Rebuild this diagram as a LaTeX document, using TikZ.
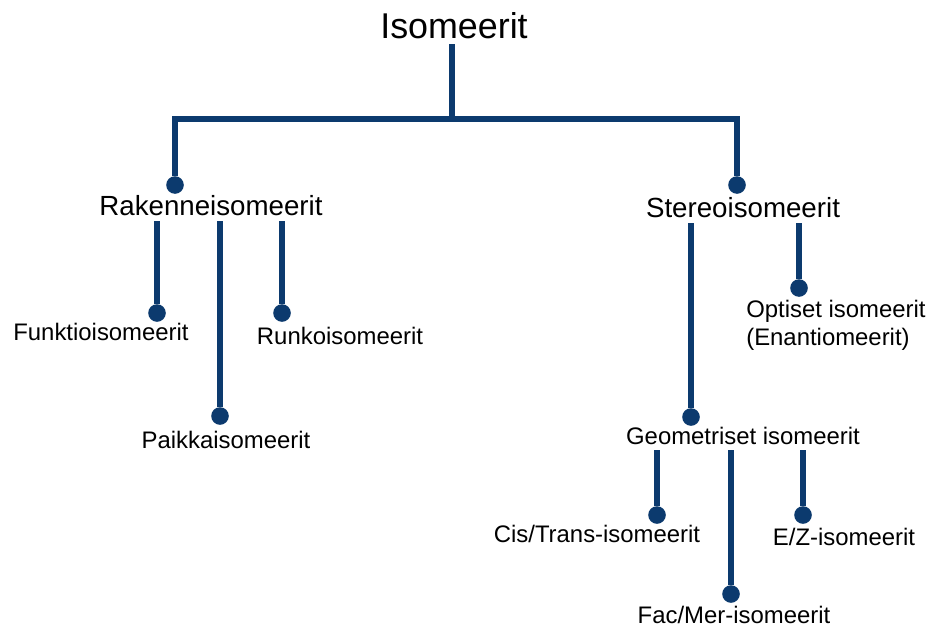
\documentclass[tikz,border=0pt]{standalone}
\usepackage{fontspec}
\setmainfont{Liberation Sans}
\usetikzlibrary{positioning}
\definecolor{treeblue}{RGB}{12,58,110}

\begin{document}
\begin{tikzpicture}[
    x=0.25mm, y=-0.25mm,
    root/.style={anchor=base, inner xsep=0pt, inner ysep=1.5mm, text depth=0pt, font=\fontsize{25.5}{30}\selectfont},
    mid/.style={anchor=base, inner xsep=0pt, inner ysep=1.5mm, text depth=0pt, font=\fontsize{19.7}{23}\selectfont},
    leaf/.style={anchor=base, inner xsep=0pt, inner ysep=1.5mm, text depth=0pt, font=\fontsize{17}{20}\selectfont},
    knot/.style={circle, fill=treeblue, inner sep=0pt, minimum size=4.4mm},
    branch/.style={draw=treeblue, line width=1.3mm}
]
    \useasboundingbox (0,0) rectangle (930,628);

    % Top level
    \node[root] (iso) at (454,38) {Isomeerit};
    \coordinate (hub) at (452,119);
    \node[knot] (rakdot) at (175,185) {};
    \node[knot] (stedot) at (737,185) {};
    \draw[branch] (iso.south -| hub) -- (hub);
    \draw[branch] (rakdot) |- (stedot |- hub) -- (stedot);

    \node[mid] (rak) at (211,215) {Rakenneisomeerit};
    \node[mid] (ste) at (743,217) {Stereoisomeerit};

    % --- Rakenneisomeerit ---
    \node[knot] (funkdot) at (157,313) {};
    \node[knot] (runkdot) at (282,313) {};
    \node[knot] (paikdot) at (220,416) {};
    \draw[branch] (rak.south -| funkdot) -- (funkdot);
    \draw[branch] (rak.south -| paikdot) -- (paikdot);
    \draw[branch] (rak.south -| runkdot) -- (runkdot);

    \node[leaf] (funk) at (101,340) {Funktioisomeerit};
    \node[leaf] (runk) at (340,344) {Runkoisomeerit};
    \node[leaf] (paik) at (226,448) {Paikkaisomeerit};

    % --- Stereoisomeerit ---
    \node[knot] (geodot) at (691,417) {};
    \node[knot] (optdot) at (799,288) {};
    \draw[branch] (ste.south -| geodot) -- (geodot);
    \draw[branch] (ste.south -| optdot) -- (optdot);

    \node[leaf, anchor=north west, align=left, inner sep=0pt] (opt) at (746,300) {Optiset isomeerit\\(Enantiomeerit)};
    \node[leaf] (geo) at (743,444) {Geometriset isomeerit};

    % --- Geometriset isomeerit ---
    \node[knot] (cisdot) at (657,515) {};
    \node[knot] (facdot) at (731,594) {};
    \node[knot] (ezdot) at (803,515) {};
    \draw[branch] (geo.south -| cisdot) -- (cisdot);
    \draw[branch] (geo.south -| facdot) -- (facdot);
    \draw[branch] (geo.south -| ezdot) -- (ezdot);

    \node[leaf] (cis) at (597,542) {Cis/Trans-isomeerit};
    \node[leaf] (ez) at (844,545) {E/Z-isomeerit};
    \node[leaf] (fac) at (734,623) {Fac/Mer-isomeerit};

\end{tikzpicture}
\end{document}
